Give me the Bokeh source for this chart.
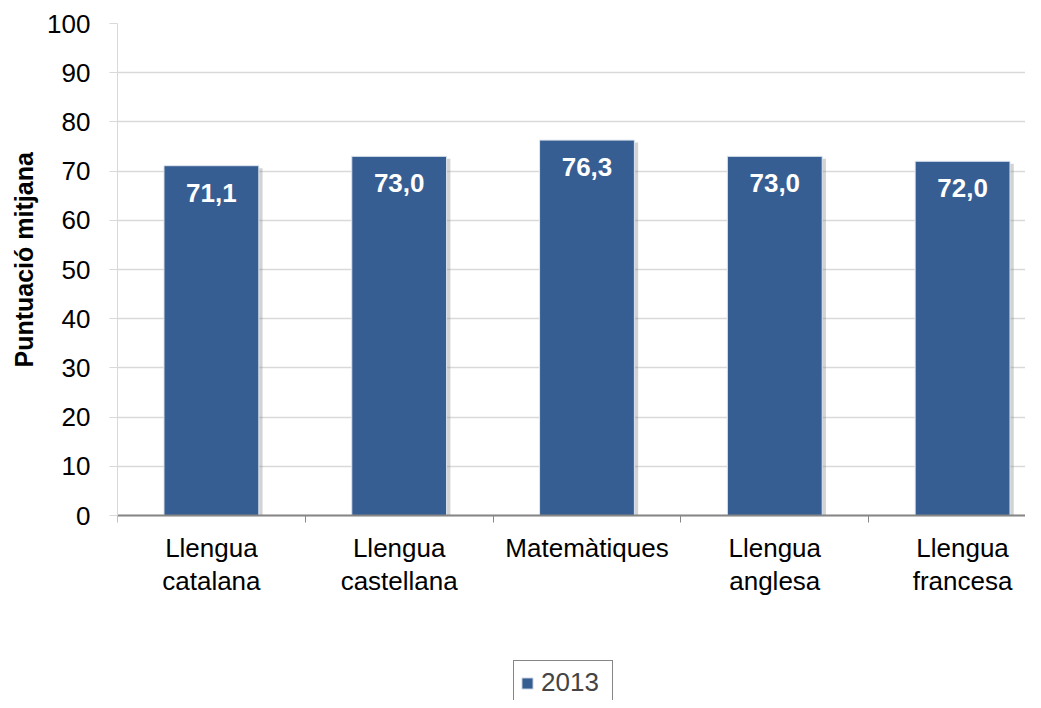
from bokeh.plotting import figure
from bokeh.models import (Range1d, FixedTicker, ColumnDataSource, Legend, LegendItem, Title)
from bokeh.core.properties import value
from bokeh.embed import file_html
from bokeh.resources import INLINE

categories = ["Llengua\ncatalana", "Llengua\ncastellana", "Matemàtiques", "Llengua\nanglesa", "Llengua\nfrancesa"]
scores_2013 = [71.1, 73.0, 76.3, 73.0, 72.0]
score_labels = ["71,1", "73,0", "76,3", "73,0", "72,0"]
y_ticks = [0, 10, 20, 30, 40, 50, 60, 70, 80, 90, 100]
series_name = "2013"
y_title = "Puntuació mitjana"

FONT = "Liberation Sans"
BAR = "#375E92"

PX_PER_UNIT = 4.92          # vertical scale of the value axis
BELOW_PX = 185              # room under the zero line for labels and legend
LEFT = 116

xs = [i + 0.5 for i in range(len(categories))]
src = ColumnDataSource(dict(x=xs, top=scores_2013, lab=score_labels,
                            xs=[v + 0.02 for v in xs],
                            ts=[v - 0.5 for v in scores_2013]))

p = figure(width=1025, height=700, output_backend="svg", toolbar_location=None,
           x_range=Range1d(0, (1025 - LEFT) / 188), y_range=Range1d(-BELOW_PX / PX_PER_UNIT, 100),
           min_border_left=LEFT, min_border_top=23, min_border_right=0, min_border_bottom=0)
p.outline_line_color = None
p.background_fill_color = "white"

# shadow
p.vbar(x="xs", top="ts", width=0.505, source=src, fill_color="#808080", fill_alpha=0.35, line_color=None)
bars = p.vbar(x="x", top="top", width=0.505, source=src, fill_color=BAR,
              line_color="#dfe6ef", line_width=1)

p.text(x="x", y="top", text="lab", source=src, y_offset=27, text_align="center",
       text_baseline="middle", text_color="white", text_font=value(FONT),
       text_font_style="bold", text_font_size="26px")

# axes
p.xaxis.fixed_location = 0
p.xaxis.ticker = FixedTicker(ticks=xs, minor_ticks=list(range(len(categories) + 1)))
p.xaxis.major_label_overrides = {x: c for x, c in zip(xs, categories)}
p.xaxis.major_tick_out = 0
p.xaxis.major_tick_in = 0
p.xaxis.minor_tick_out = 7
p.xaxis.minor_tick_in = 0
p.xaxis.minor_tick_line_color = "#868686"
p.xaxis.axis_line_color = "#868686"
p.xaxis.axis_line_width = 2
p.xaxis.major_label_standoff = 10
p.xaxis.major_label_text_font = FONT
p.xaxis.major_label_text_font_size = "26px"
p.xaxis.major_label_text_color = "black"
p.xaxis.major_label_text_line_height = 1.1

p.yaxis.bounds = (0, 100)
p.yaxis.ticker = FixedTicker(ticks=y_ticks)
p.yaxis.major_tick_out = 8
p.yaxis.major_tick_in = 0
p.yaxis.minor_tick_line_color = None
p.yaxis.axis_line_color = "#d9d9d9"
p.yaxis.major_tick_line_color = "#d9d9d9"
p.yaxis.major_label_standoff = 19
p.yaxis.major_label_text_font = FONT
p.yaxis.major_label_text_font_size = "26px"
p.yaxis.major_label_text_color = "black"

p.add_layout(Title(text=y_title, align="left", offset=333, standoff=14,
                   text_font=FONT, text_font_style="bold", text_font_size="25px",
                   text_color="black"), "left")

p.xgrid.grid_line_color = None
p.ygrid.grid_line_color = "#d9d9d9"
p.ygrid.grid_line_width = 1.5

legend = Legend(items=[LegendItem(label=series_name, renderers=[bars])],
                location=(396, -5), orientation="horizontal",
                label_text_font=FONT, label_text_font_size="26px", label_text_line_height=1.0,
                glyph_width=14, glyph_height=14, label_standoff=7, padding=6, margin=0,
                label_width=65, label_height=26,
                border_line_color="#868686", border_line_width=1.5, border_line_alpha=1.0,
                background_fill_alpha=0)
p.add_layout(legend, "center")

open("out.html", "w").write(file_html(p, INLINE))
